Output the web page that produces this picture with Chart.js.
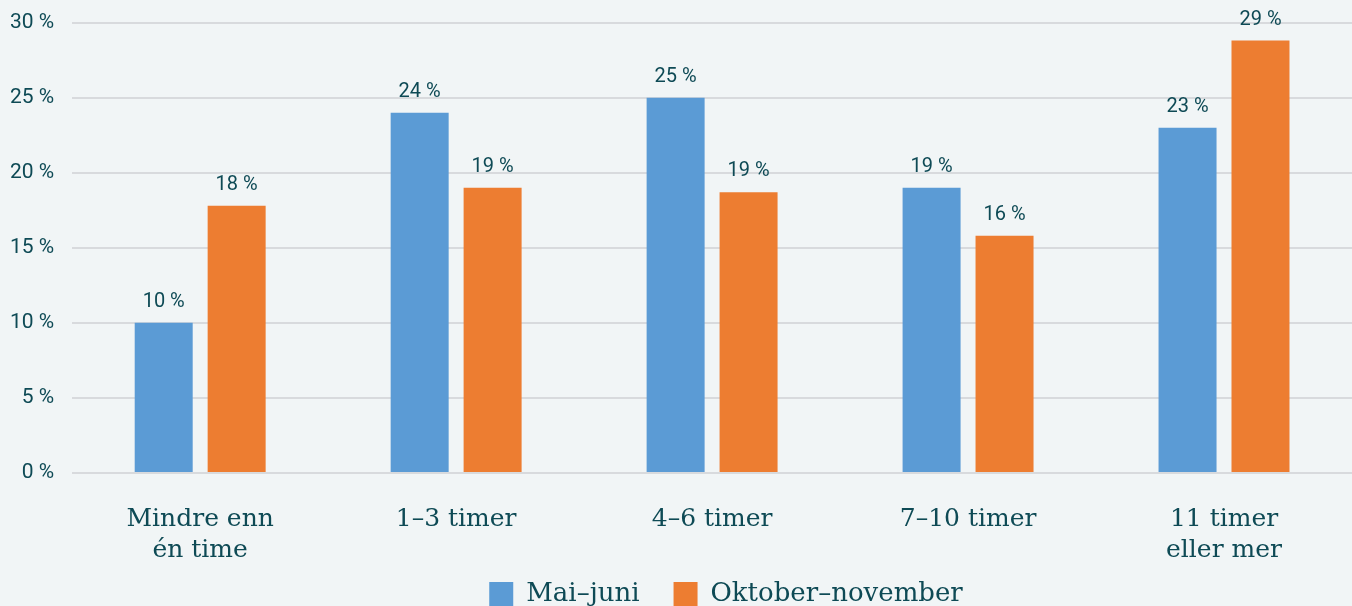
<!DOCTYPE html>
<html lang="no">
<head>
<meta charset="utf-8">
<script src="https://cdn.jsdelivr.net/npm/chart.js@4"></script>
<style>
    html, body { margin: 0; padding: 0; background: #f1f5f6; }
    #wrap { width: 1352px; height: 606px; }
</style>
</head>
<body>
<div id="wrap"><canvas id="grafica"></canvas></div>
<script>
// Kategorier og verdier (prosent)
const kategorier = [['Mindre enn', 'én time'], '1–3 timer', '4–6 timer', '7–10 timer', ['11 timer', 'eller mer']];
const maiJuni = [10, 24, 25, 19, 23];
const oktNov = [17.8, 19, 18.7, 15.8, 28.8];
const serier = ['Mai–juni', 'Oktober–november'];
const yTicks = [0, 5, 10, 15, 20, 25, 30];

const tekstFarge = '#0e4a55';

// Tall over søylene
const verdiEtiketter = {
    id: 'verdiEtiketter',
    afterDatasetsDraw(chart) {
        const ctx = chart.ctx;
        ctx.save();
        ctx.font = '20px Roboto';
        ctx.fillStyle = tekstFarge;
        ctx.textAlign = 'center';
        ctx.textBaseline = 'middle';
        chart.data.datasets.forEach((ds, i) => {
            chart.getDatasetMeta(i).data.forEach((bar, j) => {
                ctx.fillText(Math.round(ds.data[j]) + ' %', bar.x, bar.y - 21);
            });
        });
        ctx.restore();
    }
};

// Legenden: litt til høyre for midten, og nederst i bildet
const flyttLegende = {
    id: 'flyttLegende',
    afterLayout(chart) {
        const lg = chart.legend;
        const dy = 547 - lg.top;
        lg.left += 50;
        lg.right += 50;
        lg.top += dy;
        lg.bottom += dy;
    }
};

new Chart(document.getElementById('grafica'), {
    type: 'bar',
    data: {
        labels: kategorier,
        datasets: [{
            label: serier[0],
            data: maiJuni,
            backgroundColor: '#5b9bd5',
            categoryPercentage: 0.57,
            barPercentage: 0.795
        }, {
            label: serier[1],
            data: oktNov,
            backgroundColor: '#ed7d31',
            categoryPercentage: 0.57,
            barPercentage: 0.795
        }]
    },
    options: {
        responsive: true,
        maintainAspectRatio: false,
        animation: false,
        layout: { padding: { top: 0, right: 0, left: 0, bottom: -27 } },
        plugins: {
            legend: {
                position: 'bottom',
                labels: {
                    boxWidth: 24,
                    boxHeight: 24,
                    padding: 34,
                    color: tekstFarge,
                    font: { family: 'DejaVu Serif', size: 26 }
                }
            },
            tooltip: { enabled: false }
        },
        scales: {
            y: {
                min: 0,
                max: 30,
                afterBuildTicks: (axis) => { axis.ticks = yTicks.map(v => ({ value: v })); },
                ticks: {
                    padding: 10,
                    color: tekstFarge,
                    font: { family: 'Roboto', size: 21 },
                    callback: (v) => v + ' %'
                },
                grid: { color: '#d8dadd', lineWidth: 2, tickLength: 8, tickColor: 'rgba(0,0,0,0)' },
                border: { display: false }
            },
            x: {
                afterFit: (axis) => { axis.height = 90; },
                ticks: {
                    padding: 31,
                    color: tekstFarge,
                    font: { family: 'DejaVu Serif', size: 25, lineHeight: 1.24 }
                },
                grid: { display: false, drawTicks: false },
                border: { display: false }
            }
        }
    },
    plugins: [verdiEtiketter, flyttLegende]
});
</script>
</body>
</html>
